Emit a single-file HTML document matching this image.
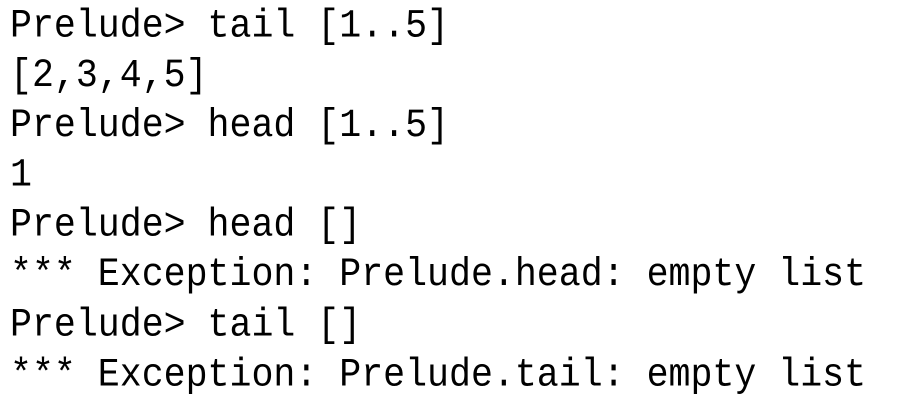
<!DOCTYPE html>
<html><head><meta charset="utf-8"><style>
html,body{margin:0;padding:0;background:#fff;width:898px;height:400px;overflow:hidden}
pre{margin:0;position:absolute;left:10px;top:2px;font-family:"Liberation Mono",monospace;font-size:36.6px;line-height:46.1px;color:#000;transform:scaleY(1.08);transform-origin:0 0}
</style></head><body><pre>Prelude&gt; tail [1..5]
[2,3,4,5]
Prelude&gt; head [1..5]
1
Prelude&gt; head []
*** Exception: Prelude.head: empty list
Prelude&gt; tail []
*** Exception: Prelude.tail: empty list</pre></body></html>
